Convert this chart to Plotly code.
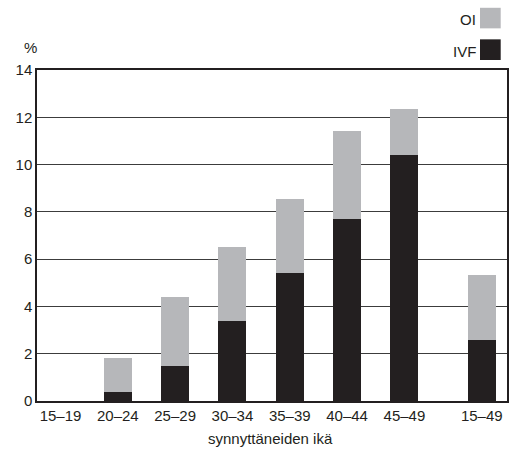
import plotly.graph_objects as go

categories = ["15–19", "20–24", "25–29", "30–34", "35–39", "40–44", "45–49", "15–49"]
x_pos = [0, 1, 2, 3, 4, 5, 6, 7.35]
ivf = [0.0, 0.39, 1.50, 3.39, 5.41, 7.69, 10.39, 2.59]
total = [0.0, 1.82, 4.42, 6.52, 8.53, 11.43, 12.33, 5.32]
oi = [round(t - i, 2) for t, i in zip(total, ivf)]

GRAY = "#b6b7ba"
BLACK = "#231f20"
FONT = "Liberation Sans, Arial, sans-serif"

W, H = 512, 456
L, R, T, B = 37, 5, 70, 54.5
pw, ph = W - L - R, H - T - B

def px_x(px):
    return (px - L) / pw

def px_y(py):
    return (H - B - py) / ph

fig = go.Figure()
fig.add_trace(go.Bar(x=x_pos, y=ivf, name="IVF", marker=dict(color=BLACK, line=dict(width=0)), width=0.49))
fig.add_trace(go.Bar(x=x_pos, y=oi, name="OI", marker=dict(color=GRAY, line=dict(width=0)), width=0.49))

fig.update_layout(
    width=W, height=H,
    barmode="stack",
    showlegend=False,
    plot_bgcolor="white",
    paper_bgcolor="white",
    margin=dict(l=L, r=R, t=T, b=B, pad=0, autoexpand=False),
    font=dict(family=FONT, size=15, color="#231f20"),
    xaxis=dict(
        range=[-0.41, 7.79],
        tickvals=x_pos,
        ticktext=categories,
        showgrid=False,
        showline=True, linecolor="#231f20", linewidth=1.5, mirror=True,
        ticks="", tickfont=dict(size=15),
        zeroline=False, automargin=False,
    ),
    yaxis=dict(
        range=[0, 14],
        tickvals=[0, 2, 4, 6, 8, 10, 12, 14],
        showgrid=True, gridcolor="#3c3c3c", gridwidth=1,
        showline=True, linecolor="#231f20", linewidth=1.5, mirror=True,
        ticks="", tickfont=dict(size=15),
        zeroline=False, automargin=False,
    ),
)

fig.add_annotation(xref="paper", yref="paper", x=px_x(270), y=px_y(439),
                   text="synnyttäneiden ikä", showarrow=False,
                   xanchor="center", yanchor="middle", font=dict(size=15))
fig.add_annotation(xref="paper", yref="paper", x=px_x(30), y=px_y(47),
                   text="%", showarrow=False,
                   xanchor="center", yanchor="middle", font=dict(size=15))
# legend
fig.add_annotation(xref="paper", yref="paper", x=px_x(478), y=px_y(19),
                   text="OI", showarrow=False, xanchor="right", yanchor="middle",
                   font=dict(size=15))
fig.add_annotation(xref="paper", yref="paper", x=px_x(478), y=px_y(51),
                   text="IVF", showarrow=False, xanchor="right", yanchor="middle",
                   font=dict(size=15))
fig.add_shape(type="rect", xref="paper", yref="paper",
              x0=px_x(480), x1=px_x(500.7), y0=px_y(28.3), y1=px_y(7.7),
              fillcolor=GRAY, line=dict(width=0))
fig.add_shape(type="rect", xref="paper", yref="paper",
              x0=px_x(480), x1=px_x(500.7), y0=px_y(60), y1=px_y(39.3),
              fillcolor=BLACK, line=dict(width=0))

fig.write_html("out.html", config={"displayModeBar": False},
               post_script="document.body.style.margin='0';")
